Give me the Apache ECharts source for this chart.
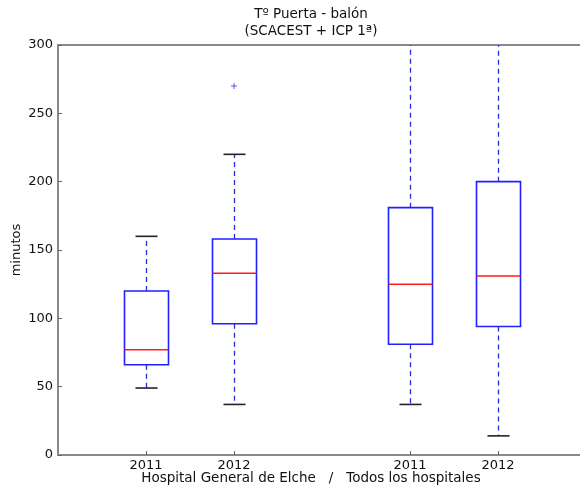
<!DOCTYPE html>
<html>
<head>
<meta charset="utf-8">
<script src="https://cdn.jsdelivr.net/npm/echarts@6/dist/echarts.min.js"></script>
<style>
html,body{margin:0;padding:0;background:#fff;overflow:hidden;width:580px;height:494px;}
#chart{width:588px;height:494px;}
</style>
</head>
<body>
<div id="chart"></div>
<script>
// ---- data ----
const categories = ['2011', '2012', '2011', '2012'];
const positions = [1, 2, 4, 5];
const whiskerLow = [49, 37, 37, 14];
const q1 = [66, 96, 81, 94];
const median = [77, 133, 125, 131];
const q3 = [120, 158, 181, 200];
const whiskerHigh = [160, 220, 330, 330];
const outlierPos = [2];
const outlierVal = [270];
const titleLines = ['Tº Puerta - balón', '(SCACEST + ICP 1ª)'];
const xTitle = 'Hospital General de Elche   /   Todos los hospitales';
const yTitle = 'minutos';

const FONT = '"DejaVu Sans", sans-serif';
const BOX_W = 0.5, CAP_W = 0.25;

const boxData = positions.map((p, i) => [p, whiskerLow[i], q1[i], median[i], q3[i], whiskerHigh[i]]);
const outData = outlierPos.map((p, i) => [p, outlierVal[i]]);

const chart = echarts.init(document.getElementById('chart'), null, {renderer: 'canvas'});
chart.setOption({
  backgroundColor: '#ffffff',
  animation: false,
  grid: {left: 58, right: 2, top: 45, bottom: 39, show: true, borderColor: '#8a8a8a', borderWidth: 2, backgroundColor: '#fff'},
  xAxis: {
    type: 'value', min: 0, max: 6, interval: 1,
    axisLine: {show: false},
    splitLine: {show: false},
    axisTick: {show: true, inside: true, length: 4, customValues: positions, lineStyle: {color: '#666'}},
    axisLabel: {
      customValues: positions,
      formatter: v => { const k = positions.indexOf(v); return k >= 0 ? categories[k] : ''; },
      color: '#111', fontFamily: FONT, fontSize: 13, margin: 4
    }
  },
  yAxis: {
    type: 'value', min: 0, max: 300, interval: 50,
    axisLine: {show: false},
    splitLine: {show: false},
    axisTick: {show: true, inside: true, length: 4, lineStyle: {color: '#666'}},
    axisLabel: {color: '#111', fontFamily: FONT, fontSize: 13, margin: 5}
  },
  graphic: [
    {type: 'text', x: 311, y: 6, style: {text: titleLines.join('\n'), font: '13.5px ' + FONT, fill: '#111', align: 'center', verticalAlign: 'top', lineHeight: 17}},
    {type: 'text', x: 311, y: 478, style: {text: xTitle, font: '13.5px ' + FONT, fill: '#111', align: 'center', verticalAlign: 'middle'}},
    {type: 'text', x: 17, y: 250, rotation: Math.PI / 2, style: {text: yTitle, font: '13px ' + FONT, fill: '#111', align: 'center', verticalAlign: 'middle'}}
  ],
  series: [
    {
      type: 'custom',
      clip: true,
      data: boxData,
      encode: {x: 0, y: [1, 2, 3, 4, 5]},
      renderItem: function (params, api) {
        const x = api.value(0);
        const lo = api.coord([x, api.value(1)]);
        const a = api.coord([x, api.value(2)]);
        const m = api.coord([x, api.value(3)]);
        const b = api.coord([x, api.value(4)]);
        const hi = api.coord([x, api.value(5)]);
        const hw = api.size([BOX_W, 0])[0] / 2;
        const cw = api.size([CAP_W, 0])[0] / 2;
        const cx = Math.round(a[0]) + 0.5;
        const whisk = {stroke: '#2b2bd6', lineWidth: 1.3, lineDash: [5, 4]};
        const cap = {stroke: '#222', lineWidth: 1.6};
        return {
          type: 'group',
          children: [
            {type: 'line', shape: {x1: cx, y1: a[1], x2: cx, y2: lo[1]}, style: whisk},
            {type: 'line', shape: {x1: cx, y1: b[1], x2: cx, y2: hi[1]}, style: whisk},
            {type: 'line', shape: {x1: cx - cw, y1: lo[1], x2: cx + cw, y2: lo[1]}, style: cap},
            {type: 'line', shape: {x1: cx - cw, y1: hi[1], x2: cx + cw, y2: hi[1]}, style: cap},
            {type: 'rect', shape: {x: cx - hw, y: b[1], width: 2 * hw, height: a[1] - b[1]}, style: {fill: 'none', stroke: '#2020ff', lineWidth: 1.6}},
            {type: 'line', shape: {x1: cx - hw, y1: m[1], x2: cx + hw, y2: m[1]}, style: {stroke: '#ff1a1a', lineWidth: 1.5}}
          ]
        };
      }
    },
    {
      type: 'scatter',
      data: outData,
      symbol: 'path://M0,5L10,5M5,0L5,10',
      symbolSize: 6,
      itemStyle: {color: 'none', borderColor: '#3030ff', borderWidth: 1}
    }
  ]
});
</script>
</body>
</html>
